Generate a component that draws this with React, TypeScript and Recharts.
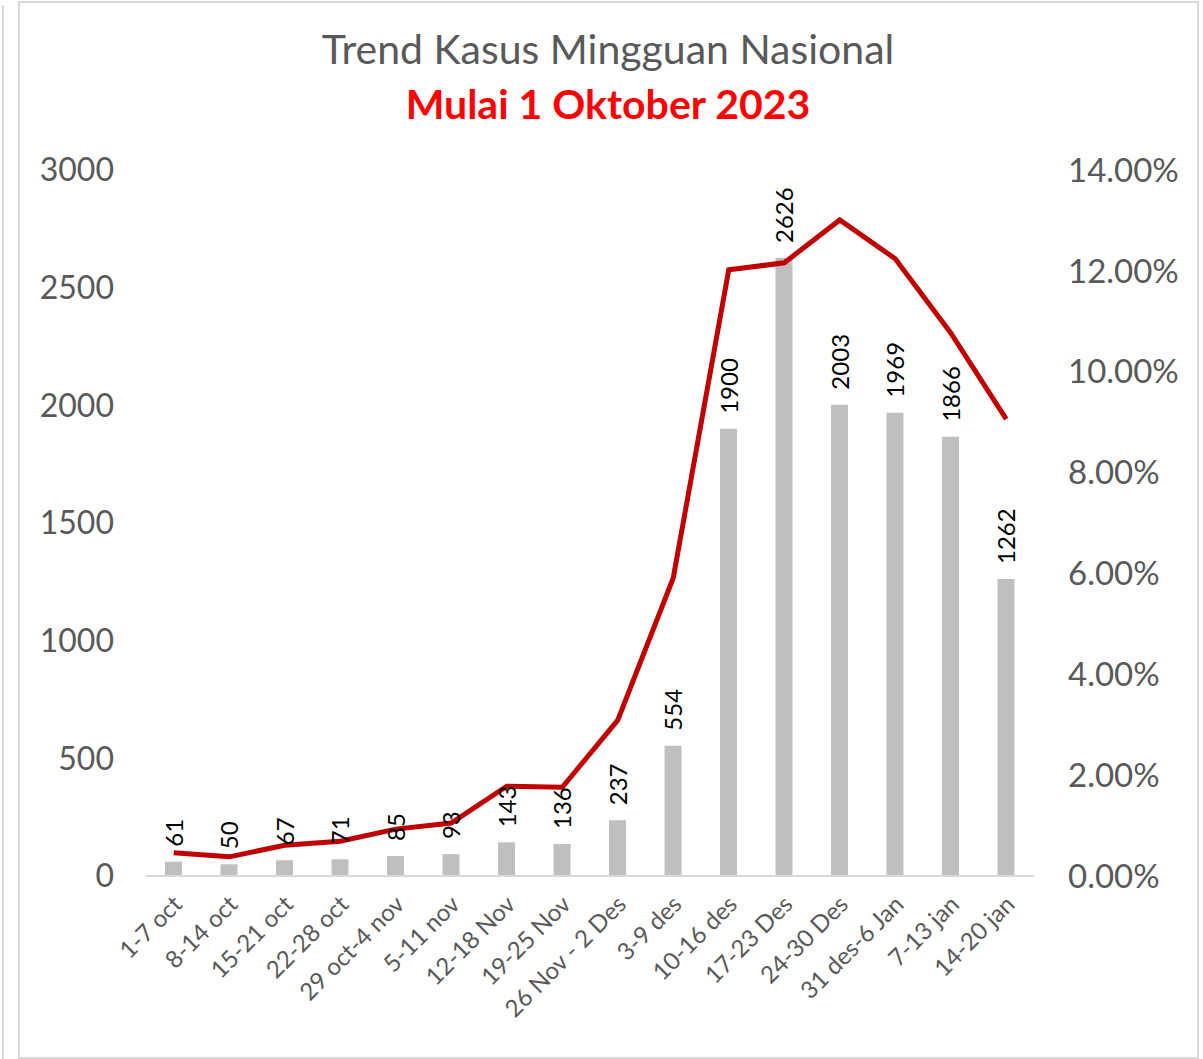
import { ComposedChart, Bar, Line, XAxis, YAxis, LabelList } from 'recharts'

const weeks = [
  '1-7 oct', '8-14 oct', '15-21 oct', '22-28 oct', '29 oct-4 nov', '5-11 nov',
  '12-18 Nov', '19-25 Nov', '26 Nov - 2 Des', '3-9 des', '10-16 des', '17-23 Des',
  '24-30 Des', '31 des-6 Jan', '7-13 jan', '14-20 jan',
]
const cases = [61, 50, 67, 71, 85, 93, 143, 136, 237, 554, 1900, 2626, 2003, 1969, 1866, 1262]
// positivity rate, percent (right axis)
const rate = [0.46, 0.38, 0.61, 0.69, 0.93, 1.05, 1.78, 1.76, 3.09, 5.91, 12.02, 12.16, 13.01, 12.24, 10.77, 9.06]
const leftTicks = [0, 500, 1000, 1500, 2000, 2500, 3000]
const rightTicks = [0, 2, 4, 6, 8, 10, 12, 14]

const data = weeks.map((w, i) => ({ week: w, cases: cases[i], rate: rate[i] }))

const FONT = "Lato, 'Open Sans', sans-serif"
const GREY = '#595959'

const WeekTick = (props: any) => {
  const { x, y, payload } = props
  return (
    <g transform={`translate(${x + 4},${y + 16}) rotate(-45)`}>
      <text x={0} y={0} textAnchor="end" dy="0.35em" fontSize={24} fill={GREY} fontFamily={FONT}>
        {payload.value}
      </text>
    </g>
  )
}

const BarValue = (props: any) => {
  const { x, y, width, value } = props
  const cx = x + width / 2
  const ty = y - 15
  return (
    <text x={cx} y={ty} transform={`rotate(-90 ${cx} ${ty})`} textAnchor="start" dominantBaseline="central"
      fontSize={24} fill="#000" fontFamily={FONT}>
      {value}
    </text>
  )
}

export default function App() {
  return (
    <div style={{ position: 'absolute', left: 0, top: 0, width: 1203, height: 1059, background: '#fff', fontFamily: FONT }}>
      <div style={{ position: 'absolute', left: 2, top: 5, width: 2, height: 1054, background: '#d9d9d9' }} />
      <div style={{ position: 'absolute', left: 18, top: 1, width: 1177, height: 1054, border: '2px solid #d9d9d9' }} />
      <div style={{ position: 'absolute', left: 0, width: 1216, top: 22, textAlign: 'center', fontSize: 41, color: GREY, lineHeight: '54px' }}>
        Trend Kasus Mingguan Nasional
      </div>
      <div style={{ position: 'absolute', left: 0, width: 1216, top: 77, textAlign: 'center', fontSize: 41, color: '#ff0000', fontWeight: 700, lineHeight: '54px' }}>
        Mulai 1 Oktober 2023
      </div>
      <div style={{ position: 'absolute', left: 0, top: 0 }}>
        <ComposedChart width={1203} height={1059} data={data} margin={{ top: 170, right: 19, bottom: 33, left: 46 }} barSize={17}>
          <XAxis dataKey="week" interval={0} height={150} tick={<WeekTick />} tickLine={false}
            axisLine={{ stroke: '#d9d9d9', strokeWidth: 2 }} />
          <YAxis yAxisId="left" width={100} domain={[0, 3000]} ticks={leftTicks} axisLine={false} tickLine={false}
            tickMargin={26} tick={{ fontSize: 32, fill: GREY, fontFamily: FONT }} />
          <YAxis yAxisId="right" orientation="right" width={150} domain={[0, 14]} ticks={rightTicks} axisLine={false}
            tickLine={false} tickMargin={28} tickFormatter={(v: number) => v.toFixed(2) + '%'}
            tick={{ fontSize: 33, fill: GREY, fontFamily: FONT, textAnchor: 'start' }} />
          <Bar yAxisId="left" dataKey="cases" fill="#bfbfbf" isAnimationActive={false}>
            <LabelList dataKey="cases" content={<BarValue />} />
          </Bar>
          <Line yAxisId="right" type="linear" dataKey="rate" stroke="#c00000" strokeWidth={5} dot={false}
            isAnimationActive={false} />
        </ComposedChart>
      </div>
    </div>
  )
}
